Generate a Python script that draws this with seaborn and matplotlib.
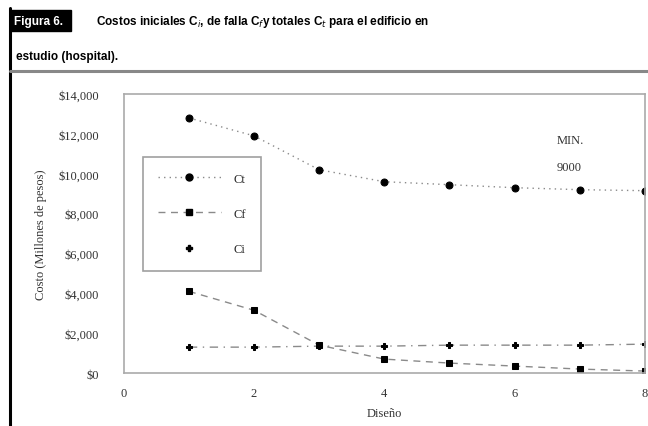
import numpy as np
import pandas as pd
import seaborn as sns
from matplotlib import pyplot as plt
from matplotlib.lines import Line2D

# Data
disenos = [1, 2, 3, 4, 5, 6, 7, 8]
ct = [12800, 11900, 10200, 9600, 9450, 9300, 9200, 9150]
cf = [4100, 3150, 1400, 700, 500, 350, 200, 100]
ci = [1300, 1300, 1350, 1350, 1400, 1400, 1400, 1450]
y_ticks = [0, 2000, 4000, 6000, 8000, 10000, 12000, 14000]
x_ticks = [0, 2, 4, 6, 8]

df = pd.DataFrame({"Diseño": disenos, "Ct": ct, "Cf": cf, "Ci": ci})

sns.set_style("white")
plt.rcParams['font.family'] = ['Liberation Serif', 'DejaVu Serif']

fig = plt.figure(figsize=(6.48, 4.27), dpi=100)
ax = fig.add_axes([0.191, 0.124, 0.804, 0.6535])

line_col = "#8a8a8a"
ms = 5
sns.lineplot(data=df, x="Diseño", y="Ct", ax=ax, color=line_col, linestyle=(0, (1, 3)),
             lw=1, marker="o", markersize=ms, markerfacecolor="black", markeredgecolor="black")
sns.lineplot(data=df, x="Diseño", y="Cf", ax=ax, color=line_col, linestyle=(0, (5, 4)),
             lw=1, marker="s", markersize=ms - 0.5, markerfacecolor="black", markeredgecolor="black")
sns.lineplot(data=df, x="Diseño", y="Ci", ax=ax, color=line_col, linestyle=(0, (6, 4, 1, 4)),
             lw=1, marker="P", markersize=ms, markerfacecolor="black", markeredgecolor="black")

ax.set_xlim(0, 8)
ax.set_ylim(0, 14000)
ax.set_xticks(x_ticks)
ax.set_yticks(y_ticks)
ax.set_yticklabels([f"${v:,}" for v in y_ticks], fontsize=9)
ax.set_xticklabels([str(v) for v in x_ticks], fontsize=9)
ax.tick_params(axis="both", direction="in", length=4, color="#999999", pad=10, colors="#333333")
ax.tick_params(axis="y", pad=18)
for s in ax.spines.values():
    s.set_color("#aaaaaa")
    s.set_linewidth(1.2)
ax.set_xlabel("Diseño", fontsize=9, color="#333333", labelpad=6)
ax.set_ylabel("Costo (Millones de pesos)", fontsize=9, color="#333333", labelpad=8)

ax.text(6.65, 11700, "MIN.", fontsize=9, color="#333333", ha="left", va="center")
ax.text(6.65, 10350, "9000", fontsize=9, color="#333333", ha="left", va="center")

handles = [
    Line2D([], [], color=line_col, linestyle=(0, (1, 3)), lw=1, marker="o", markersize=ms,
           markerfacecolor="black", markeredgecolor="black"),
    Line2D([], [], color=line_col, linestyle=(0, (5, 4)), lw=1, marker="s", markersize=ms - 0.5,
           markerfacecolor="black", markeredgecolor="black"),
    Line2D([], [], color="none", marker="P", markersize=ms,
           markerfacecolor="black", markeredgecolor="black"),
]
leg = ax.legend(handles, ["Ct", "Cf", "Ci"], loc="upper left", bbox_to_anchor=(0.036, 0.774),
                frameon=True, fancybox=False, fontsize=9, handlelength=5.0,
                labelspacing=1.85, borderpad=1.25, handletextpad=1.0, borderaxespad=0)
leg.get_frame().set_edgecolor("#888888")
leg.get_frame().set_linewidth(1.2)

# Header
fig.add_artist(Line2D([0.016, 0.016], [0.0, 0.98], color="black", lw=2.2, transform=fig.transFigure))
fig.add_artist(Line2D([0.016, 1.0], [0.831, 0.831], color="#888888", lw=2.2, transform=fig.transFigure))
fig.text(0.022, 0.949, "Figura 6. ", fontsize=8.5, fontweight="bold", color="white",
         family=["Liberation Sans", "DejaVu Sans"], va="center",
         bbox=dict(boxstyle="square,pad=0.4", fc="black", ec="black"))
fig.text(0.148, 0.949, r"Costos iniciales C$_i$, de falla C$_f$y totales C$_t$ para el edificio en",
         fontsize=8.5, fontweight="bold", color="black", family=["Liberation Sans", "DejaVu Sans"],
         va="center")
fig.text(0.024, 0.866, "estudio (hospital).", fontsize=8.5, fontweight="bold", color="black",
         family=["Liberation Sans", "DejaVu Sans"], va="center")

fig.savefig("out.png", dpi=100)
